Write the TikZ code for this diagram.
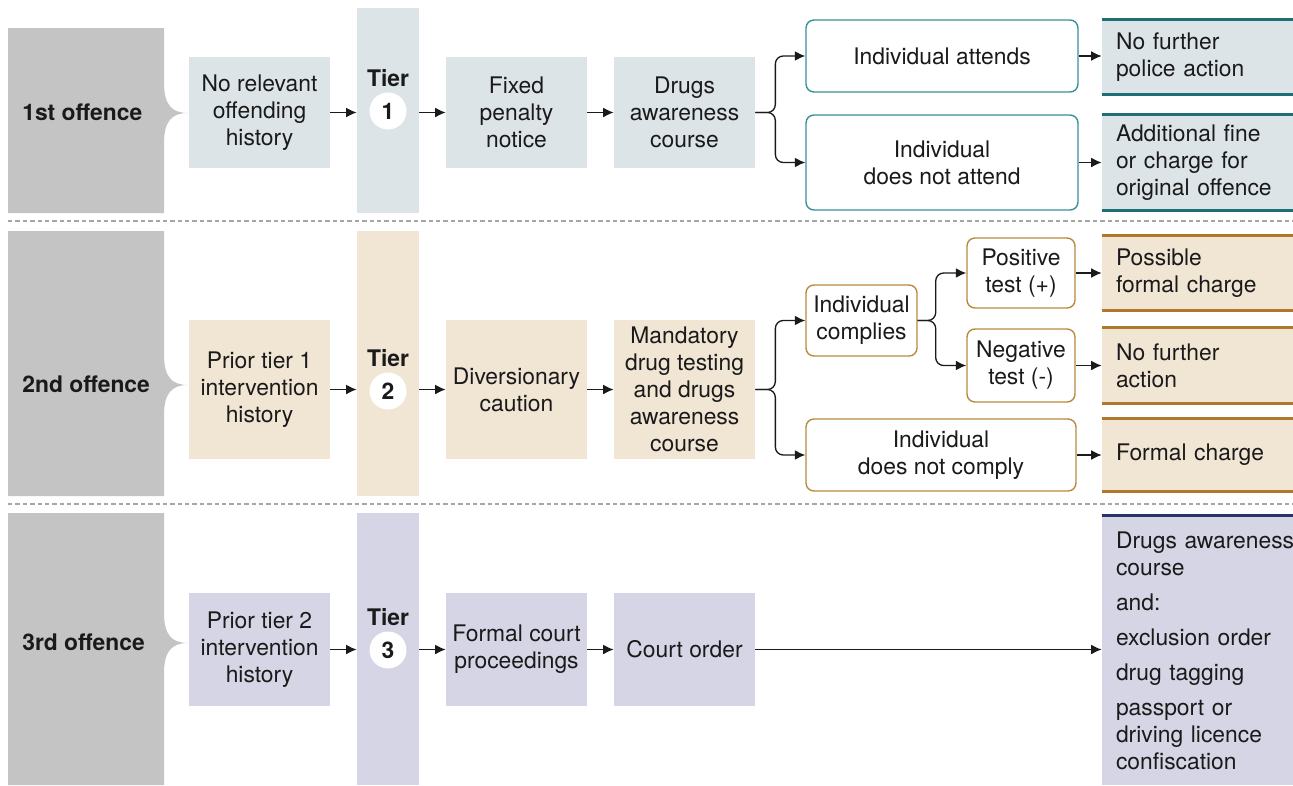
\documentclass[tikz,border=0pt]{standalone}
\usepackage{fontspec}
\setmainfont{TeX Gyre Heros}
\usetikzlibrary{arrows.meta, positioning}
\definecolor{ink}{HTML}{1A1A1A}
\definecolor{greylab}{HTML}{C4C4C4}
\definecolor{bluefill}{HTML}{DCE4E7}
\definecolor{tealline}{HTML}{3A8F9A}
\definecolor{tealdark}{HTML}{1F6D75}
\definecolor{beigefill}{HTML}{F1E5D4}
\definecolor{brownline}{HTML}{B88A3E}
\definecolor{browndark}{HTML}{B0782A}
\definecolor{lilacfill}{HTML}{D5D5E5}
\definecolor{navyline}{HTML}{27336A}

\begin{document}
\begin{tikzpicture}[x=0.02cm, y=-0.02cm,
    txt/.style={font=\fontsize{13}{15.4}\selectfont, text=ink},
    bold/.style={font=\fontsize{13}{15.4}\selectfont\bfseries, text=ink},
    stage/.style={txt, fill=#1, minimum width=2.82cm, align=center, inner sep=0pt},
    choice/.style={txt, draw=#1, fill=white, line width=0.8pt, rounded corners=4.5pt, align=center, inner sep=0pt},
    result/.style={txt, fill=#1, text width=3.26cm, inner xsep=0.28cm, inner ysep=0pt, align=left},
    tiernum/.style={bold, circle, fill=white, minimum size=0.74cm, inner sep=0pt},
    arr/.style={-{Latex[length=6pt,width=5.6pt]}, line width=0.75pt, ink},
    sep/.style={gray!70, line width=0.6pt, dash pattern=on 2.5pt off 1.7pt}]
    \useasboundingbox (0,0) rectangle (1293,785);

    % Offence labels with pointer
    \foreach \ya/\yb/\ym/\lab/\name in {28/213/113/1st offence/off1, 231/496/385/2nd offence/off2, 513/785/643/3rd offence/off3} {
        \fill[greylab] (8,\ya) -- (164,\ya) -- (164,\ym-30) .. controls (164,\ym-8) and (172,\ym) .. (188,\ym)
            .. controls (172,\ym) and (164,\ym+8) .. (164,\ym+30) -- (164,\yb) -- (8,\yb) -- cycle;
        \node[bold, anchor=west, inner sep=0pt] (\name) at (22,\ym-1) {\lab};
    }

    % Tier columns
    \foreach \i/\ya/\yb/\yc/\col in {1/8/213/111/bluefill, 2/231/496/391/beigefill, 3/513/785/650/lilacfill} {
        \pgfmathsetmacro\h{(\yb-\ya)*0.02}
        \node[fill=\col, minimum width=1.24cm, minimum height=\h cm, inner sep=0pt] (bar\i) at (388,{(\ya+\yb)/2}) {};
        \node[tiernum] (num\i) at (388,\yc) {\i};
        \node[bold] (tier\i) at (388,\yc-33) {Tier};
    }

    % Separators
    \draw[sep] (8,221) -- (1293,221);
    \draw[sep] (8,504) -- (1293,504);

    % 1st offence
    \node[stage=bluefill, minimum height=2.22cm] (hist1) at (259.5,112.5) {No relevant\\offending\\history};
    \node[stage=bluefill, minimum height=2.22cm] (penalty) at (516.5,112.5) {Fixed\\penalty\\notice};
    \node[stage=bluefill, minimum height=2.22cm] (course1) at (684.5,112.5) {Drugs\\awareness\\course};
    \node[choice=tealline, minimum width=5.44cm, minimum height=1.44cm] (attend) at (942,56) {Individual attends};
    \node[choice=tealline, minimum width=5.44cm, minimum height=1.9cm] (noattend) at (942,162.5) {Individual\\does not attend};
    \node[result=bluefill, minimum height=1.48cm] (nfpa) at (1197.5,57) {No further\\police action};
    \node[result=bluefill, minimum height=1.9cm] (addfine) at (1197.5,162.5) {Additional fine\\or charge for\\original offence};

    % 2nd offence
    \node[stage=beigefill, minimum height=2.78cm] (hist2) at (259.5,389.5) {Prior tier 1\\intervention\\history};
    \node[stage=beigefill, minimum height=2.78cm] (caution) at (516.5,389.5) {Diversionary\\caution};
    \node[stage=beigefill, minimum height=2.78cm] (testing) at (684.5,389.5) {Mandatory\\drug testing\\and drugs\\awareness\\course};
    \node[choice=brownline, minimum width=2.22cm, minimum height=1.42cm] (comply) at (861.5,320.5) {Individual\\complies};
    \node[choice=brownline, minimum width=5.4cm, minimum height=1.44cm] (nocomply) at (941,455) {Individual\\does not comply};
    \node[choice=brownline, minimum width=2.16cm, minimum height=1.4cm] (postest) at (1021,273) {Positive\\test (+)};
    \node[choice=brownline, minimum width=2.16cm, minimum height=1.46cm] (negtest) at (1021,365.5) {Negative\\test (-)};
    \node[result=beigefill, minimum height=1.48cm] (posscharge) at (1197.5,273) {Possible\\formal charge};
    \node[result=beigefill, minimum height=1.5cm] (nfa) at (1197.5,365.5) {No further\\action};
    \node[result=beigefill, minimum height=1.44cm] (fcharge) at (1197.5,455) {Formal charge};

    % 3rd offence
    \node[stage=lilacfill, minimum height=2.26cm] (hist3) at (259.5,649.5) {Prior tier 2\\intervention\\history};
    \node[stage=lilacfill, minimum height=2.26cm] (court) at (516.5,649.5) {Formal court\\proceedings};
    \node[stage=lilacfill, minimum height=2.26cm] (order) at (684.5,649.5) {Court order};
    \node[result=lilacfill, minimum height=5.38cm] (sanctions) at (1197.5,650.5)
        {\mbox{Drugs awareness}\\course\\[4.5pt]and:\\[4.5pt]exclusion order\\[4.5pt]drug tagging\\[4.5pt]passport or\\driving licence\\confiscation};

    % Outcome rules
    \foreach \n/\col in {nfpa/tealdark, addfine/tealdark, posscharge/browndark, nfa/browndark, fcharge/browndark}
        \draw[line width=1.7pt, \col] (\n.north west) -- (\n.north east) (\n.south west) -- (\n.south east);
    \draw[line width=1.7pt, navyline] (sanctions.north west) -- (sanctions.north east);

    % Connectors
    \foreach \r/\a/\b in {1/hist1/penalty, 2/hist2/caution, 3/hist3/court} {
        \draw[arr] (\a.east) -- (\a.east -| bar\r.west);
        \draw[arr] (bar\r.east |- \b.west) -- (\b.west);
    }
    \draw[arr] (penalty.east) -- (course1.west);
    \draw[arr] (caution.east) -- (testing.west);
    \draw[arr] (court.east) -- (order.west);
    \draw[arr, rounded corners=4.5pt] (course1.east) -- ++(20,0) |- (attend.west);
    \draw[arr, rounded corners=4.5pt] (course1.east) -- ++(20,0) |- (noattend.west);
    \draw[arr, rounded corners=4.5pt] (testing.east) -- ++(20,0) |- (comply.west);
    \draw[arr, rounded corners=4.5pt] (testing.east) -- ++(20,0) |- (nocomply.west);
    \draw[arr, rounded corners=4.5pt] (comply.east) -- ++(18,0) |- (postest.west);
    \draw[arr, rounded corners=4.5pt] (comply.east) -- ++(18,0) |- (negtest.west);
    \draw[arr] (attend.east) -- (attend.east -| nfpa.west);
    \draw[arr] (noattend.east) -- (noattend.east -| addfine.west);
    \draw[arr] (postest.east) -- (postest.east -| posscharge.west);
    \draw[arr] (negtest.east) -- (negtest.east -| nfa.west);
    \draw[arr] (nocomply.east) -- (nocomply.east -| fcharge.west);
    \draw[arr] (order.east) -- (order.east -| sanctions.west);
\end{tikzpicture}
\end{document}
